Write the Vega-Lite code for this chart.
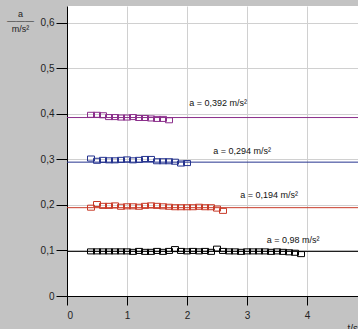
{
  "$schema": "https://vega.github.io/schema/vega-lite/v6.json",
  "autosize": "none",
  "width": 291,
  "height": 290,
  "padding": {"left": 67, "top": 6, "right": 0, "bottom": 33},
  "background": "#c3c3c3",
  "config": {
    "view": {"fill": "white", "stroke": null},
    "font": "Liberation Sans"
  },
  "datasets": {
    "points": [
      {"series": "s392", "t": 0.4, "a": 0.398}, {"series": "s392", "t": 0.5, "a": 0.398}, {"series": "s392", "t": 0.6, "a": 0.397},
      {"series": "s392", "t": 0.7, "a": 0.393}, {"series": "s392", "t": 0.8, "a": 0.393}, {"series": "s392", "t": 0.9, "a": 0.392},
      {"series": "s392", "t": 1.0, "a": 0.392}, {"series": "s392", "t": 1.1, "a": 0.393}, {"series": "s392", "t": 1.2, "a": 0.391},
      {"series": "s392", "t": 1.3, "a": 0.391}, {"series": "s392", "t": 1.4, "a": 0.390}, {"series": "s392", "t": 1.5, "a": 0.389},
      {"series": "s392", "t": 1.6, "a": 0.389}, {"series": "s392", "t": 1.7, "a": 0.386},

      {"series": "s294", "t": 0.4, "a": 0.302}, {"series": "s294", "t": 0.5, "a": 0.297}, {"series": "s294", "t": 0.6, "a": 0.299},
      {"series": "s294", "t": 0.7, "a": 0.298}, {"series": "s294", "t": 0.8, "a": 0.298}, {"series": "s294", "t": 0.9, "a": 0.299},
      {"series": "s294", "t": 1.0, "a": 0.300}, {"series": "s294", "t": 1.1, "a": 0.298}, {"series": "s294", "t": 1.2, "a": 0.299},
      {"series": "s294", "t": 1.3, "a": 0.301}, {"series": "s294", "t": 1.4, "a": 0.301}, {"series": "s294", "t": 1.5, "a": 0.296},
      {"series": "s294", "t": 1.6, "a": 0.296}, {"series": "s294", "t": 1.7, "a": 0.296}, {"series": "s294", "t": 1.8, "a": 0.295},
      {"series": "s294", "t": 1.9, "a": 0.291}, {"series": "s294", "t": 2.0, "a": 0.292},

      {"series": "s194", "t": 0.4, "a": 0.194}, {"series": "s194", "t": 0.5, "a": 0.202}, {"series": "s194", "t": 0.6, "a": 0.198},
      {"series": "s194", "t": 0.7, "a": 0.198}, {"series": "s194", "t": 0.8, "a": 0.199}, {"series": "s194", "t": 0.9, "a": 0.196},
      {"series": "s194", "t": 1.0, "a": 0.197}, {"series": "s194", "t": 1.1, "a": 0.197}, {"series": "s194", "t": 1.2, "a": 0.196},
      {"series": "s194", "t": 1.3, "a": 0.198}, {"series": "s194", "t": 1.4, "a": 0.199}, {"series": "s194", "t": 1.5, "a": 0.198},
      {"series": "s194", "t": 1.6, "a": 0.197}, {"series": "s194", "t": 1.7, "a": 0.196}, {"series": "s194", "t": 1.8, "a": 0.195},
      {"series": "s194", "t": 1.9, "a": 0.195}, {"series": "s194", "t": 2.0, "a": 0.195}, {"series": "s194", "t": 2.1, "a": 0.195},
      {"series": "s194", "t": 2.2, "a": 0.196}, {"series": "s194", "t": 2.3, "a": 0.195}, {"series": "s194", "t": 2.4, "a": 0.195},
      {"series": "s194", "t": 2.5, "a": 0.192}, {"series": "s194", "t": 2.6, "a": 0.187},

      {"series": "s98", "t": 0.4, "a": 0.098}, {"series": "s98", "t": 0.5, "a": 0.098}, {"series": "s98", "t": 0.6, "a": 0.098},
      {"series": "s98", "t": 0.7, "a": 0.098}, {"series": "s98", "t": 0.8, "a": 0.098}, {"series": "s98", "t": 0.9, "a": 0.098},
      {"series": "s98", "t": 1.0, "a": 0.098}, {"series": "s98", "t": 1.1, "a": 0.097}, {"series": "s98", "t": 1.2, "a": 0.099},
      {"series": "s98", "t": 1.3, "a": 0.097}, {"series": "s98", "t": 1.4, "a": 0.097}, {"series": "s98", "t": 1.5, "a": 0.099},
      {"series": "s98", "t": 1.6, "a": 0.097}, {"series": "s98", "t": 1.7, "a": 0.099}, {"series": "s98", "t": 1.8, "a": 0.103},
      {"series": "s98", "t": 1.9, "a": 0.099}, {"series": "s98", "t": 2.0, "a": 0.098}, {"series": "s98", "t": 2.1, "a": 0.099},
      {"series": "s98", "t": 2.2, "a": 0.098}, {"series": "s98", "t": 2.3, "a": 0.099}, {"series": "s98", "t": 2.4, "a": 0.097},
      {"series": "s98", "t": 2.5, "a": 0.104}, {"series": "s98", "t": 2.6, "a": 0.099}, {"series": "s98", "t": 2.7, "a": 0.098},
      {"series": "s98", "t": 2.8, "a": 0.098}, {"series": "s98", "t": 2.9, "a": 0.097}, {"series": "s98", "t": 3.0, "a": 0.098},
      {"series": "s98", "t": 3.1, "a": 0.098}, {"series": "s98", "t": 3.2, "a": 0.098}, {"series": "s98", "t": 3.3, "a": 0.098},
      {"series": "s98", "t": 3.4, "a": 0.097}, {"series": "s98", "t": 3.5, "a": 0.098}, {"series": "s98", "t": 3.6, "a": 0.097},
      {"series": "s98", "t": 3.7, "a": 0.096}, {"series": "s98", "t": 3.8, "a": 0.095}, {"series": "s98", "t": 3.9, "a": 0.092}
    ],
    "fits": [
      {"series": "s392", "a": 0.392, "t": 2.52, "ty": 0.424, "label": "a = 0,392 m/s²"},
      {"series": "s294", "a": 0.294, "t": 2.92, "ty": 0.318, "label": "a = 0,294 m/s²"},
      {"series": "s194", "a": 0.194, "t": 3.37, "ty": 0.222, "label": "a = 0,194 m/s²"},
      {"series": "s98", "a": 0.098, "t": 3.77, "ty": 0.123, "label": "a = 0,98 m/s²"}
    ]
  },
  "layer": [
    {
      "data": {"name": "fits"},
      "mark": {"type": "rule", "strokeWidth": 1},
      "encoding": {
        "y": {"field": "a", "type": "quantitative", "scale": {"domain": [0, 0.637], "nice": false, "zero": false},
          "axis": {
            "values": [0, 0.05, 0.1, 0.15, 0.2, 0.25, 0.3, 0.35, 0.4, 0.45, 0.5, 0.55, 0.6],
            "grid": true, "gridColor": "#d0d0d0", "gridWidth": 1,
            "domainColor": "black", "domainWidth": 1,
            "tickColor": "black", "tickWidth": 1,
            "tickSize": {"condition": {"test": "round(datum.value*100)%10==0", "value": 11}, "value": 7},
            "labelExpr": "round(datum.value*100)%10!=0 ? '' : (datum.value==0 ? '0' : replace(format(datum.value,'.1f'),'.',','))",
            "labelFont": "Liberation Sans", "labelFontSize": 10, "labelColor": "#222", "labelPadding": 2,
            "title": ["a", "———", "m/s²"], "titleAngle": 0, "titleX": -47, "titleY": 3,
            "titleAlign": "center", "titleBaseline": "top", "titleFont": "Liberation Sans",
            "titleFontSize": 9, "titleFontWeight": "normal", "titleColor": "#222", "titleLineHeight": 7.5
          }
        },
        "color": {"field": "series", "type": "nominal", "legend": null,
          "scale": {"domain": ["s392", "s294", "s194", "s98"], "range": ["#8b2f8b", "#26348f", "#c83a28", "#000000"]}}
      }
    },
    {
      "data": {"name": "points"},
      "mark": {"type": "point", "shape": "M-1,-0.72H1V0.72H-1Z", "filled": false, "size": 49, "strokeWidth": 1, "opacity": 1},
      "encoding": {
        "x": {"field": "t", "type": "quantitative", "scale": {"domain": [0, 4.85], "nice": false, "zero": false},
          "axis": {
            "values": [0, 0.5, 1, 1.5, 2, 2.5, 3, 3.5, 4, 4.5],
            "grid": true, "gridColor": "#d0d0d0", "gridWidth": 1,
            "domainColor": "black", "domainWidth": 1,
            "tickColor": "black", "tickWidth": 1,
            "tickSize": {"condition": {"test": "datum.value%1==0", "value": 9}, "value": 5},
            "labelExpr": "datum.value%1==0 ? format(datum.value,'d') : ''",
            "labelFont": "Liberation Sans", "labelFontSize": 10, "labelColor": "#222", "labelPadding": 5,
            "title": "t/s", "titleX": 280, "titleY": 27, "titleAlign": "left", "titleBaseline": "top",
            "titleFont": "Liberation Sans", "titleFontSize": 10, "titleFontWeight": "normal", "titleColor": "#222"
          }
        },
        "y": {"field": "a", "type": "quantitative"},
        "color": {"field": "series", "type": "nominal", "legend": null}
      }
    },
    {
      "data": {"name": "fits"},
      "mark": {"type": "text", "font": "Liberation Sans", "fontSize": 9, "color": "#111", "align": "center", "baseline": "middle"},
      "encoding": {
        "x": {"field": "t", "type": "quantitative"},
        "y": {"field": "ty", "type": "quantitative"},
        "text": {"field": "label"}
      }
    }
  ]
}
